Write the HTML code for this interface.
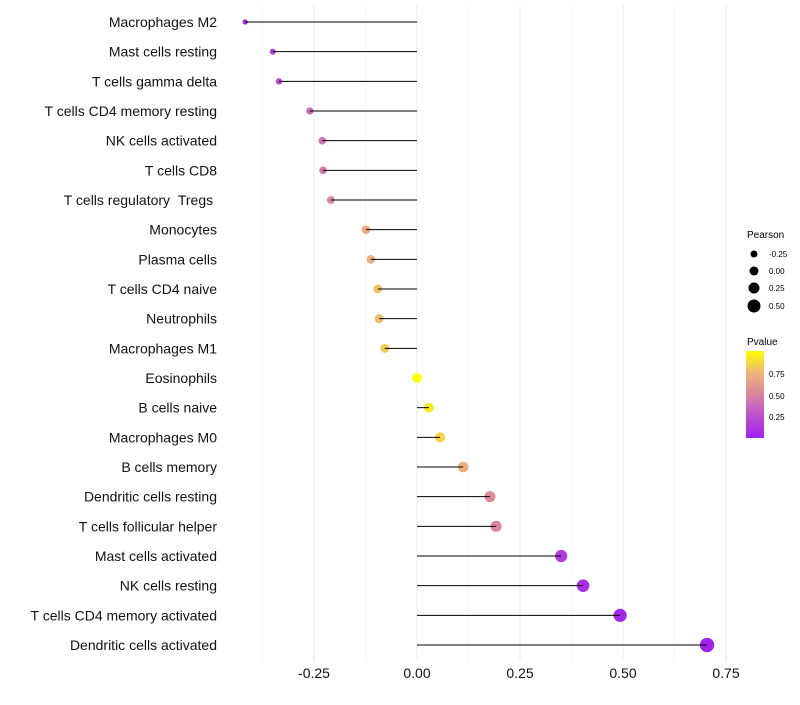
<!DOCTYPE html>
<html><head><meta charset="utf-8"><style>
body{margin:0;background:#fff;font-family:"Liberation Sans",sans-serif}
</style></head><body>
<svg id="c" width="800" height="700" xmlns="http://www.w3.org/2000/svg">
<defs><linearGradient id="pg" x1="0" y1="1" x2="0" y2="0">
<stop offset="0" stop-color="#a020f0"/><stop offset="0.25" stop-color="#bb4fcf"/><stop offset="0.5" stop-color="#d8859f"/><stop offset="0.75" stop-color="#efb578"/><stop offset="1" stop-color="#ffff00"/></linearGradient></defs>
<g id="grid"></g><g id="dots"></g><g id="marks"></g><g id="labels"></g>
<g font-size="10">
<text x="747" y="238">Pearson</text>
<circle cx="754" cy="254" r="3.5" fill="#000"/><text x="769" y="257" font-size="8">-0.25</text>
<circle cx="754" cy="271" r="4.5" fill="#000"/><text x="769" y="274" font-size="8">0.00</text>
<circle cx="754" cy="288" r="5.5" fill="#000"/><text x="769" y="291" font-size="8">0.25</text>
<circle cx="754" cy="306" r="6.5" fill="#000"/><text x="769" y="309" font-size="8">0.50</text>
<text x="747" y="345">Pvalue</text>
<rect x="746" y="351" width="18" height="87" fill="url(#pg)"/>
<text x="769" y="377" font-size="8">0.75</text><text x="769" y="399" font-size="8">0.50</text><text x="769" y="420" font-size="8">0.25</text>
</g>
</svg>
<script>
const categories=["Macrophages M2","Mast cells resting","T cells gamma delta","T cells CD4 memory resting","NK cells activated","T cells CD8","T cells regulatory\u00a0\u00a0Tregs\u00a0","Monocytes","Plasma cells","T cells CD4 naive","Neutrophils","Macrophages M1","Eosinophils","B cells naive","Macrophages M0","B cells memory","Dendritic cells resting","T cells follicular helper","Mast cells activated","NK cells resting","T cells CD4 memory activated","Dendritic cells activated"];
const pearson=[-0.417,-0.35,-0.335,-0.26,-0.23,-0.228,-0.209,-0.124,-0.112,-0.095,-0.092,-0.078,0.0,0.029,0.056,0.112,0.177,0.192,0.35,0.403,0.493,0.704];
const pvalue=[0.05,0.2,0.22,0.38,0.42,0.44,0.5,0.7,0.72,0.78,0.78,0.82,1.0,0.93,0.85,0.72,0.55,0.5,0.15,0.08,0.03,0.01];
const xTicks=[-0.25,0,0.25,0.5,0.75];
const xTickLabels=["-0.25","0.00","0.25","0.50","0.75"];
const NS="http://www.w3.org/2000/svg";
const x=v=>417+v*412;
const y=i=>22+i*(623/21);
const stops=[[0,[160,32,240]],[0.25,[187,79,207]],[0.5,[216,133,159]],[0.75,[239,181,120]],[1,[255,255,0]]];
function col(p){p=Math.max(0,Math.min(1,p));for(let k=1;k<stops.length;k++){if(p<=stops[k][0]){const a=stops[k-1],b=stops[k],t=(p-a[0])/(b[0]-a[0]);return "rgb("+a[1].map((c,j)=>Math.round(c+(b[1][j]-c)*t)).join(",")+")";}}}
function mk(t,a,p){const e=document.createElementNS(NS,t);for(const k in a)e.setAttribute(k,a[k]);p.appendChild(e);return e;}
const g=document.getElementById("grid"),m=document.getElementById("marks"),D=document.getElementById("dots"),L=document.getElementById("labels");
for(let v=-0.375;v<=0.76;v+=0.125){const major=Math.abs(v*4-Math.round(v*4))<1e-6;const l=mk("line",{x1:x(v),x2:x(v),y1:5,y2:662,stroke:major?"#ebebeb":"#f4f4f4","stroke-width":major?1:0.6},g);

}
xTicks.forEach((v,i)=>{const t=mk("text",{x:x(v),y:678,"font-size":14,"text-anchor":"middle",fill:"#111"},L);t.textContent=xTickLabels[i];

});
categories.forEach((c,i)=>{const yy=y(i);
const r=Math.sqrt(Math.max(4,23.5+40*pearson[i]));
const d=mk("circle",{cx:x(pearson[i]),cy:yy,r:r,fill:col(pvalue[i])},D);


const ln=mk("line",{x1:x(0),x2:x(pearson[i]),y1:yy,y2:yy,stroke:"#000","stroke-width":1},m);


const t=mk("text",{x:217,y:yy+5,"font-size":14,"text-anchor":"end",fill:"#111"},L);t.textContent=c;

});
</script>
</body></html>
